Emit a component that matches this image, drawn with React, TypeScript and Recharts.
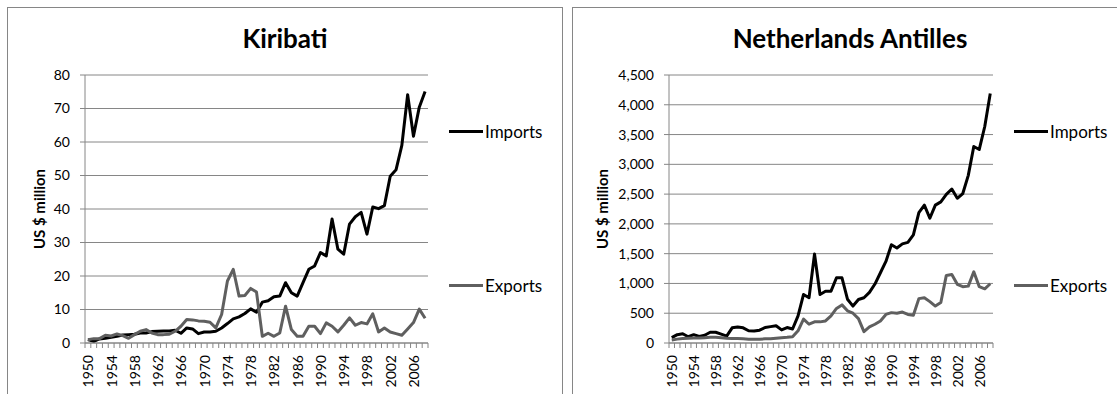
import React from "react";
import { LineChart, Line, XAxis, YAxis, CartesianGrid, Legend, Label } from "recharts";

const years = [
  "1950", "1951", "1952", "1953", "1954", "1955", "1956", "1957", "1958", "1959",
  "1960", "1961", "1962", "1963", "1964", "1965", "1966", "1967", "1968", "1969",
  "1970", "1971", "1972", "1973", "1974", "1975", "1976", "1977", "1978", "1979",
  "1980", "1981", "1982", "1983", "1984", "1985", "1986", "1987", "1988", "1989",
  "1990", "1991", "1992", "1993", "1994", "1995", "1996", "1997", "1998", "1999",
  "2000", "2001", "2002", "2003", "2004", "2005", "2006", "2007", "2008",
];
const yearLabels = ["1950", "1954", "1958", "1962", "1966", "1970", "1974", "1978", "1982", "1986", "1990", "1994", "1998", "2002", "2006"];
const seriesNames = ["Imports", "Exports"];

const kiribatiImports = [
  1.0, 0.5, 1.2, 1.4, 1.7, 2.0, 2.4, 2.5, 2.6, 3.0,
  3.0, 3.4, 3.5, 3.6, 3.6, 3.8, 2.9, 4.5, 4.2, 2.8,
  3.3, 3.3, 3.5, 4.5, 5.8, 7.2, 7.8, 8.8, 10.2, 9.2,
  12.2, 12.6, 13.8, 14.0, 18.0, 15.0, 14.0, 18.0, 22.0, 23.0,
  27.0, 26.0, 37.0, 28.0, 26.5, 35.5, 37.7, 39.0, 32.5, 40.6,
  40.1, 41.0, 49.8, 51.7, 59.0, 74.1, 61.7, 70.4, 75.1,
];
const kiribatiExports = [
  1.0, 1.3, 1.3, 2.3, 2.1, 2.7, 2.2, 1.4, 2.5, 3.5,
  4.0, 3.0, 2.5, 2.5, 2.6, 3.5, 5.0, 7.0, 6.9, 6.6,
  6.5, 6.2, 4.5, 8.5, 18.5, 22.0, 14.0, 14.2, 16.3, 15.2,
  2.0, 2.9, 2.0, 3.0, 11.0, 4.0, 2.0, 2.0, 5.0, 5.0,
  2.8, 6.0, 5.0, 3.3, 5.3, 7.5, 5.3, 6.1, 5.7, 8.7,
  3.3, 4.5, 3.3, 2.8, 2.3, 4.2, 6.1, 10.1, 7.4,
];
const antillesImports = [
  90, 140, 155, 105, 140, 110, 130, 180, 180, 150,
  115, 255, 270, 255, 205, 200, 215, 260, 275, 290,
  220, 260, 235, 455, 815, 760, 1495, 815, 870, 870,
  1095, 1095, 735, 620, 730, 760, 850, 990, 1180, 1370,
  1650, 1595, 1665, 1690, 1815, 2190, 2315, 2095, 2315, 2370,
  2495, 2585, 2430, 2510, 2815, 3300, 3250, 3635, 4190,
];
const antillesExports = [
  50, 65, 75, 80, 85, 85, 90, 95, 95, 90,
  80, 75, 75, 70, 65, 65, 65, 70, 70, 80,
  90, 95, 105, 205, 400, 315, 355, 355, 370, 455,
  580, 640, 540, 500, 410, 190, 270, 315, 370, 480,
  510, 500, 520, 480, 465, 745, 760, 695, 620, 680,
  1135, 1150, 985, 945, 955, 1195, 945, 910, 995,
];
const kiribatiTicks = [0, 10, 20, 30, 40, 50, 60, 70, 80];
const antillesTicks = [0, 500, 1000, 1500, 2000, 2500, 3000, 3500, 4000, 4500];

const FONT = "Lato, 'Open Sans', sans-serif";
const GREY = "#868686";

// chart geometry inside one panel (panel content box)
const CHART_W = 554;
const CHART_H = 386;
const PLOT_TOP = 67;
const PLOT_BOTTOM = 335;
const PLOT_RIGHT = 420;
const X_AXIS_H = 45;
const Y_AXIS_W = 60;

function renderLegend(props: any) {
  const items = [...(props.payload || [])].sort(
    (a: any, b: any) => seriesNames.indexOf(a.value) - seriesNames.indexOf(b.value)
  );
  return (
    <div style={{ fontFamily: FONT, fontSize: 17, color: "#000" }}>
      {items.map((p: any, i: number) => (
        <div key={p.value} style={{ display: "flex", alignItems: "center", height: 20, marginTop: i ? 134 : 0 }}>
          <span style={{ display: "inline-block", width: 34, height: 3, background: p.color, marginRight: 2 }} />
          <span>{p.value}</span>
        </div>
      ))}
    </div>
  );
}

function Panel(props: {
  left: number;
  title: string;
  imports: number[];
  exports: number[];
  ticks: number[];
  plotLeft: number;
  labelX: number;
}) {
  const { left, title, imports, exports, ticks, plotLeft, labelX } = props;
  const half = (PLOT_RIGHT - plotLeft) / years.length / 2;
  const data = years.map((year, i) => ({ year, Imports: imports[i], Exports: exports[i] }));
  const yMax = ticks[ticks.length - 1];

  const yearTick = (p: any) => {
    const x = p.x;
    const ty = PLOT_BOTTOM + 12;
    const last = p.index === years.length - 1;
    return (
      <g>
        <line x1={x - half} x2={x - half} y1={PLOT_BOTTOM} y2={PLOT_BOTTOM + 5} stroke={GREY} />
        {last && <line x1={x + half} x2={x + half} y1={PLOT_BOTTOM} y2={PLOT_BOTTOM + 5} stroke={GREY} />}
        {yearLabels.includes(p.payload.value) && (
          <text
            x={x}
            y={ty}
            transform={`rotate(-90 ${x} ${ty})`}
            textAnchor="end"
            dominantBaseline="central"
            fontSize={14}
            fontFamily={FONT}
            fill="#000"
          >
            {p.payload.value}
          </text>
        )}
      </g>
    );
  };

  return (
    <div
      style={{
        position: "absolute",
        left,
        top: 7,
        width: CHART_W,
        height: 400,
        border: `1px solid ${GREY}`,
        background: "#fff",
      }}
    >
      <div
        style={{
          position: "absolute",
          left: 0,
          top: 15,
          width: "100%",
          height: 30,
          lineHeight: "30px",
          textAlign: "center",
          fontFamily: FONT,
          fontWeight: 700,
          fontSize: 26,
          zIndex: 2,
        }}
      >
        {title}
      </div>
      <LineChart
        width={CHART_W}
        height={CHART_H}
        data={data}
        margin={{ top: PLOT_TOP, right: CHART_W - PLOT_RIGHT, bottom: CHART_H - PLOT_BOTTOM - X_AXIS_H, left: plotLeft - Y_AXIS_W }}
      >
        <CartesianGrid vertical={false} stroke={GREY} strokeDasharray="" />
        <XAxis
          dataKey="year"
          height={X_AXIS_H}
          interval={0}
          padding={{ left: half, right: half }}
          axisLine={{ stroke: GREY }}
          tickLine={false}
          tick={yearTick}
        />
        <YAxis
          width={Y_AXIS_W}
          domain={[0, yMax]}
          ticks={ticks}
          interval={0}
          tickSize={5}
          tickMargin={10}
          axisLine={{ stroke: GREY }}
          tickLine={{ stroke: GREY }}
          tick={{ fill: "#000", fontSize: 14, fontFamily: FONT }}
          tickFormatter={(v: number) => v.toLocaleString("en-US")}
        >
          <Label
            content={(lp: any) => {
              const vb = lp.viewBox || {};
              const cy = (vb.y ?? PLOT_TOP) + (vb.height ?? PLOT_BOTTOM - PLOT_TOP) / 2;
              return (
                <text
                  x={labelX}
                  y={cy}
                  transform={`rotate(-90 ${labelX} ${cy})`}
                  textAnchor="middle"
                  dominantBaseline="central"
                  fontSize={15}
                  fontWeight={700}
                  fontFamily={FONT}
                  fill="#000"
                >
                  US $ million
                </text>
              );
            }}
          />
        </YAxis>
        <Legend
          layout="vertical"
          align="center"
          verticalAlign="middle"
          wrapperStyle={{ left: 441, top: 113, width: 110 }}
          content={renderLegend}
        />
        <Line type="linear" dataKey="Imports" stroke="#000000" strokeWidth={3} dot={false} strokeLinejoin="round" isAnimationActive={false} />
        <Line type="linear" dataKey="Exports" stroke="#5f5f5f" strokeWidth={3} dot={false} strokeLinejoin="round" isAnimationActive={false} />
      </LineChart>
    </div>
  );
}

export default function App() {
  return (
    <div style={{ position: "absolute", left: 0, top: 0, width: 1117, height: 394, overflow: "hidden", background: "#fff" }}>
      <Panel left={7} title="Kiribati" imports={kiribatiImports} exports={kiribatiExports} ticks={kiribatiTicks} plotLeft={77} labelX={31} />
      <Panel left={572} title="Netherlands Antilles" imports={antillesImports} exports={antillesExports} ticks={antillesTicks} plotLeft={96} labelX={29} />
    </div>
  );
}
